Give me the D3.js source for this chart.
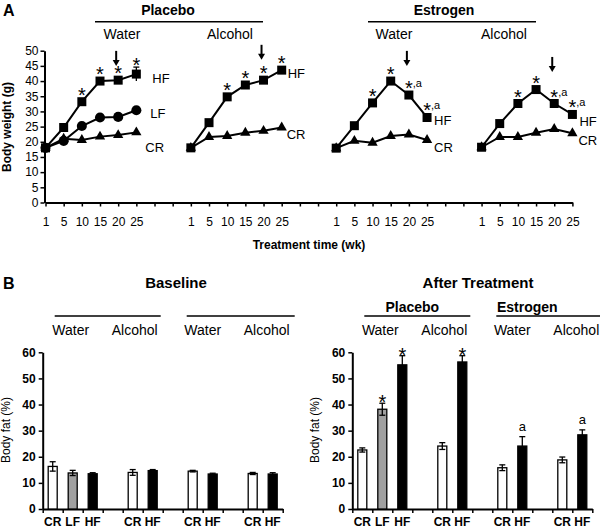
<!DOCTYPE html>
<html>
<head>
<meta charset="utf-8">
<script src="https://cdn.jsdelivr.net/npm/d3@7/dist/d3.min.js"></script>
<style>
	body { margin: 0; background: #fff; }
	svg { display: block; font-family: 'Liberation Sans', Arial, sans-serif; }
	.axis path { stroke: #000; stroke-width: 2; }
	.axis line { stroke: #000; stroke-width: 1.5; }
	.axis text { fill: #000; }
</style>
</head>
<body>
<div id="chart"></div>
<script>
// ---------- data: panel A (body weight, g) ----------
const weeks = ['1', '5', '10', '15', '20', '25'];
const panelsA = ['Placebo Water', 'Placebo Alcohol', 'Estrogen Water', 'Estrogen Alcohol'];

const hfWeight = [
	[18.0, 24.7, 33.2, 40.0, 40.3, 42.3],
	[18.0, 26.3, 34.8, 38.7, 40.3, 43.6],
	[17.9, 25.3, 32.8, 40.0, 35.4, 28.0],
	[18.2, 26.0, 32.6, 37.2, 32.6, 29.0]
];
const crWeight = [
	[18.0, 21.0, 20.6, 21.7, 22.2, 23.1],
	[18.0, 21.6, 21.9, 23.0, 23.6, 24.7],
	[17.9, 20.3, 19.7, 21.9, 22.4, 20.6],
	[18.2, 21.6, 21.6, 23.0, 24.2, 22.8]
];
// LF only exists in placebo / water
const lfWeight = [18.0, 20.3, 25.2, 28.0, 28.2, 30.4];
const hfWeightErr = [0.3, 0.5, 0.6, 0.6, 0.8, 2.3];
const hfSig = [
	['', '', '*', '*', '*', '*'],
	['', '', '*', '*', '*', '*'],
	['', '', '*', '*', '*,a', '*,a'],
	['', '', '*', '*', '*,a', '*,a']
];
// arrow marks week 20, tip value in g
const arrowTip = [45, 47, 45, 43];

// ---------- data: panel B (body fat, %) ----------
const fatCats = ['CR', 'LF', 'HF', '', 'CR', 'HF', '', 'CR', 'HF', '', 'CR', 'HF'];
const baselineFat = [16.3, 13.8, 13.5, null, 14.0, 14.7, null, 14.5, 13.4, null, 13.6, 13.4];
const baselineErr = [1.8, 1.0, 0.4, null, 1.1, 0.4, null, 0.3, 0.3, null, 0.4, 0.5];
const afterFat = [22.6, 38.2, 55.2, null, 24.1, 56.3, null, 15.8, 24.1, null, 18.8, 28.4];
const afterErr = [0.8, 2.3, 3.5, null, 1.3, 2.4, null, 1.1, 3.6, null, 1.1, 1.9];
const afterSig = ['', '*', '*', '', '', '*', '', '', 'a', '', '', 'a'];

// ---------- setup ----------
const width = 600;
const height = 530;
const $svg = d3.select('#chart').append('svg')
	.attr('width', width)
	.attr('height', height);

function addText(x, y, str, size, weight, anchor) {
	return $svg.append('text')
		.attr('x', x).attr('y', y)
		.attr('font-size', size)
		.attr('font-weight', weight || 'normal')
		.attr('text-anchor', anchor || 'middle')
		.text(str);
}
function addLine(x1, x2, y) {
	$svg.append('line')
		.attr('x1', x1).attr('x2', x2).attr('y1', y).attr('y2', y)
		.attr('stroke', '#000').attr('stroke-width', 1.5);
}

// ---------- panel A ----------
addText(3, 16, 'A', 16, 'bold', 'start');
addText(168, 15, 'Placebo', 14, 'bold');
addLine(95, 263, 21.7);
addText(122, 39, 'Water', 14);
addText(230, 39, 'Alcohol', 14);
addText(444, 15, 'Estrogen', 14, 'bold');
addLine(368, 536, 21.7);
addText(394, 39, 'Water', 14);
addText(504, 39, 'Alcohol', 14);

// 30 slots on one category axis: 6 weeks per panel plus 2 empty between panels
const slots = [];
panelsA.forEach((p, pi) => {
	weeks.forEach(w => slots.push(`${pi}|${w}`));
	if (pi < panelsA.length - 1) slots.push(`${pi}|gap1`, `${pi}|gap2`);
});
const scaleXA = d3.scalePoint().domain(slots).range([45.5, 572.4]);
const scaleYA = d3.scaleLinear().domain([0, 50]).range([202.5, 50.7]);

const $axisXA = $svg.append('g').attr('class', 'axis')
	.attr('transform', `translate(0, ${scaleYA(0)})`)
	.call(d3.axisBottom(scaleXA)
		.tickSize(4).tickSizeOuter(0).tickPadding(11)
		.tickFormat(d => d.indexOf('gap') > -1 ? '' : d.split('|')[1]));
$axisXA.selectAll('text').attr('font-size', 12).attr('font-family', null);

const $axisYA = $svg.append('g').attr('class', 'axis')
	.attr('transform', `translate(${scaleXA(slots[0]) - 1}, 0)`)
	.call(d3.axisLeft(scaleYA).tickValues(d3.range(0, 51, 5)).tickSize(4).tickSizeOuter(0).tickPadding(2));
$axisYA.selectAll('text').attr('font-size', 12).attr('font-family', null);

addText(0, 0, 'Body weight (g)', 12, 'bold')
	.attr('transform', 'translate(11, 127) rotate(-90)');
addText(309, 249, 'Treatment time (wk)', 12, 'bold');

const $visA = $svg.append('g').attr('class', 'g-vis-a');
const line = pi => d3.line()
	.x((d, i) => scaleXA(`${pi}|${weeks[i]}`))
	.y(d => scaleYA(d));

const symSquare = d3.symbol(d3.symbolSquare, 81);
const symCircle = d3.symbol(d3.symbolCircle, 80);
const symTriangle = d3.symbol(d3.symbolTriangle, 46);

// label offsets from the last point of each series
const labelOffset = {
	HF: [[16, 4], [6, 3], [7, 3], [7, 7]],
	LF: [[14, 3]],
	CR: [[9, 15], [5, 7], [7, 7], [6, 7]]
};

panelsA.forEach((p, pi) => {
	const $g = $visA.append('g');
	const series = [{ key: 'CR', values: crWeight[pi], sym: symTriangle }];
	if (pi === 0) series.push({ key: 'LF', values: lfWeight, sym: symCircle });
	series.push({ key: 'HF', values: hfWeight[pi], sym: symSquare });

	series.forEach(s => {
		$g.append('path')
			.attr('d', line(pi)(s.values))
			.attr('fill', 'none').attr('stroke', '#000').attr('stroke-width', 2);
	});

	if (pi === 0) {
		const $err = $g.selectAll('.err').data(hfWeight[0]).enter().append('g');
		$err.append('line')
			.attr('x1', (d, i) => scaleXA(`0|${weeks[i]}`))
			.attr('x2', (d, i) => scaleXA(`0|${weeks[i]}`))
			.attr('y1', (d, i) => scaleYA(d - hfWeightErr[i]))
			.attr('y2', (d, i) => scaleYA(d + hfWeightErr[i]))
			.attr('stroke', '#000').attr('stroke-width', 1.3);
		$err.append('line')
			.attr('x1', (d, i) => scaleXA(`0|${weeks[i]}`) - 3)
			.attr('x2', (d, i) => scaleXA(`0|${weeks[i]}`) + 3)
			.attr('y1', (d, i) => scaleYA(d + hfWeightErr[i]))
			.attr('y2', (d, i) => scaleYA(d + hfWeightErr[i]))
			.attr('stroke', '#000').attr('stroke-width', 1.3);
	}

	series.forEach(s => {
		$g.selectAll(`.m-${s.key}`).data(s.values).enter().append('path')
			.attr('d', s.sym)
			.attr('transform', (d, i) => `translate(${scaleXA(`${pi}|${weeks[i]}`)}, ${scaleYA(d)})`)
			.attr('fill', '#000');

		const off = labelOffset[s.key][pi];
		const last = s.values[s.values.length - 1];
		$g.append('text')
			.attr('x', scaleXA(`${pi}|25`) + off[0])
			.attr('y', scaleYA(last) + off[1])
			.attr('dy', '0.35em')
			.attr('font-size', 13)
			.text(s.key);
	});

	// significance marks over HF; ",a" sits level with the star
	hfSig[pi].forEach((m, i) => {
		if (!m) return;
		const v = hfWeight[pi][i];
		const x = scaleXA(`${pi}|${weeks[i]}`);
		let y = scaleYA(v);
		if (pi === 0) y = Math.min(y, scaleYA(v + hfWeightErr[i]) + 4.5);
		const $t = $g.append('text').attr('x', x - 3.9).attr('y', y);
		$t.append('tspan').attr('font-size', 20).text('*');
		if (m.length > 1) $t.append('tspan').attr('font-size', 11).attr('dy', -8).text(m.slice(1));
	});

	// arrow at week 20
	const ax = scaleXA(`${pi}|20`) - 2;
	const ay = scaleYA(arrowTip[pi]);
	$g.append('line')
		.attr('x1', ax).attr('x2', ax).attr('y1', ay - 15).attr('y2', ay - 4)
		.attr('stroke', '#000').attr('stroke-width', 2);
	$g.append('path')
		.attr('d', `M${ax - 3.5},${ay - 6}L${ax + 3.5},${ay - 6}L${ax},${ay}Z`)
		.attr('fill', '#000');
});

// ---------- panel B ----------
addText(3, 289, 'B', 16, 'bold', 'start');
addText(176, 288, 'Baseline', 15, 'bold');
addText(478, 288, 'After Treatment', 15, 'bold');

const scaleYB = d3.scaleLinear().domain([0, 60]).range([509, 352.3]);
const fill = { CR: '#fff', LF: '#a0a0a0', HF: '#000' };

function barChart(x0, values, errs, sig, headers) {
	const x1 = x0 + 240;
	const scaleBand = d3.scaleBand().domain(d3.range(fatCats.length))
		.range([x0, x1]).paddingInner(0.55).paddingOuter(0.275);
	const scaleIdx = d3.scaleLinear().domain([0, fatCats.length]).range([x0, x1]);

	// group headers
	[[0.6, 5.9], [7.2, 12.6]].forEach(s => addLine(scaleIdx(s[0]), Math.min(scaleIdx(s[1]), width), 316));
	[[1.4, 'Water'], [4.6, 'Alcohol'], [8.0, 'Water'], [11.2, 'Alcohol']]
		.forEach(l => addText(scaleIdx(l[0]), 335, l[1], 14));
	if (headers) {
		addText(scaleIdx(3.0), 311.5, 'Placebo', 14, 'bold');
		addText(scaleIdx(8.75), 311.5, 'Estrogen', 14, 'bold');
	}

	$svg.append('g').attr('class', 'axis')
		.attr('transform', `translate(0, ${scaleYB(0)})`)
		.call(d3.axisBottom(scaleIdx).tickValues(d3.range(fatCats.length + 1))
			.tickSize(4).tickSizeOuter(0).tickFormat(''));

	const $axisY = $svg.append('g').attr('class', 'axis')
		.attr('transform', `translate(${x0}, 0)`)
		.call(d3.axisLeft(scaleYB).tickValues(d3.range(0, 61, 10)).tickSize(4).tickSizeOuter(0).tickPadding(3));
	$axisY.selectAll('text').attr('font-size', 12).attr('font-weight', 'bold').attr('font-family', null);

	addText(0, 0, 'Body fat (%)', 12, 'normal')
		.attr('transform', `translate(${x0 - 33}, 430) rotate(-90)`);

	const rows = values.map((v, i) => ({ i, v, e: errs[i], cat: fatCats[i], sig: sig ? sig[i] : '' }))
		.filter(d => d.v !== null);

	const $vis = $svg.append('g');
	$vis.selectAll('.bar').data(rows).enter().append('rect')
		.attr('x', d => scaleBand(d.i))
		.attr('width', scaleBand.bandwidth())
		.attr('y', d => scaleYB(d.v))
		.attr('height', d => scaleYB(0) - scaleYB(d.v))
		.attr('fill', d => fill[d.cat])
		.attr('stroke', '#000').attr('stroke-width', 1.3);

	const cx = d => scaleBand(d.i) + scaleBand.bandwidth() / 2;
	const $err = $vis.selectAll('.err').data(rows).enter().append('g');
	$err.append('line')
		.attr('x1', cx).attr('x2', cx)
		.attr('y1', d => scaleYB(d.v - d.e)).attr('y2', d => scaleYB(d.v + d.e))
		.attr('stroke', '#000').attr('stroke-width', 1.3);
	[1, -1].forEach(sgn => {
		$err.append('line')
			.attr('x1', d => cx(d) - 3).attr('x2', d => cx(d) + 3)
			.attr('y1', d => scaleYB(d.v + sgn * d.e)).attr('y2', d => scaleYB(d.v + sgn * d.e))
			.attr('stroke', '#000')
			.attr('stroke-width', 1.3);
	});

	$vis.selectAll('.sig').data(rows.filter(d => d.sig)).enter().append('text')
		.attr('x', cx)
		.attr('y', d => d.sig === '*' ? scaleYB(d.v + d.e) + 6 : scaleYB(d.v + d.e) - 6)
		.attr('text-anchor', 'middle')
		.attr('font-size', d => d.sig === '*' ? 20 : 13)
		.text(d => d.sig);

	$vis.selectAll('.cat').data(fatCats.map((c, i) => ({ c, i })).filter(d => d.c)).enter().append('text')
		.attr('x', d => scaleBand(d.i) + scaleBand.bandwidth() / 2)
		.attr('y', 526)
		.attr('text-anchor', 'middle')
		.attr('font-size', 12)
		.attr('font-weight', 'bold')
		.text(d => d.c);
}

barChart(42.7, baselineFat, baselineErr, null, false);
barChart(352.3, afterFat, afterErr, afterSig, true);
</script>
</body>
</html>
